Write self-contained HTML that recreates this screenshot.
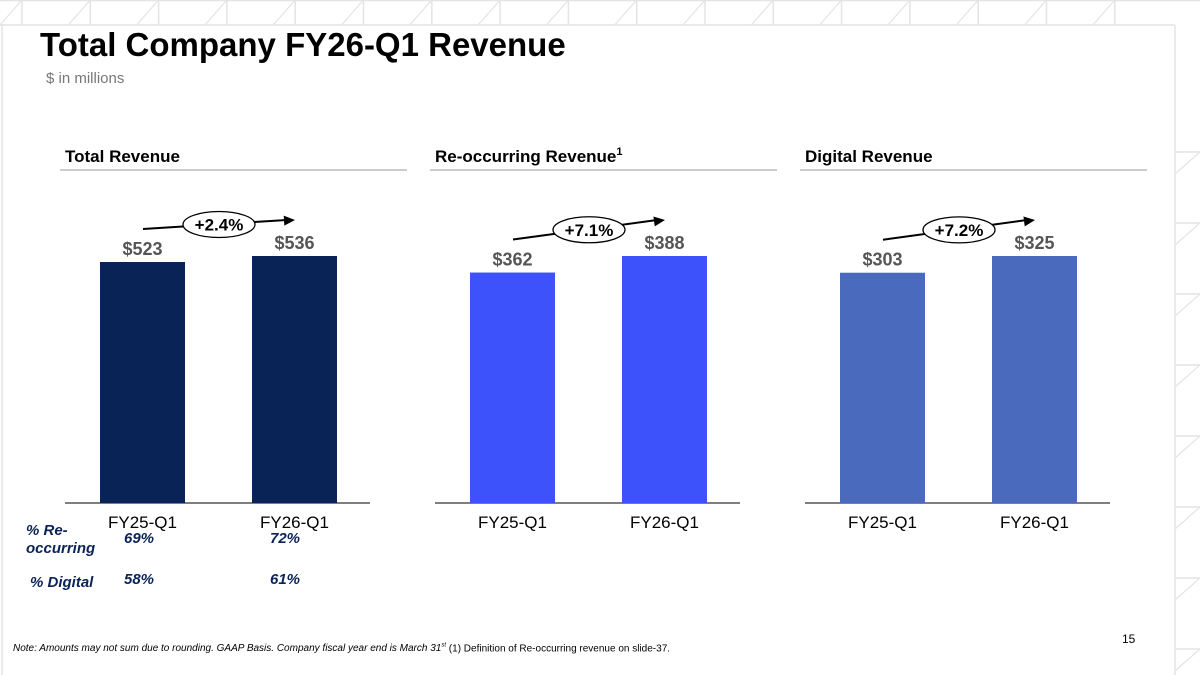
<!DOCTYPE html>
<html><head><meta charset="utf-8"><style>
body{margin:0;width:1200px;height:675px;overflow:hidden;background:#fff;font-family:"Liberation Sans",sans-serif;position:relative}
.t{position:absolute;white-space:nowrap}
</style></head><body>
<svg id="frame" width="1200" height="675" style="position:absolute;left:0;top:0"></svg>
<div class="t" style="left:40px;top:26px;font-size:33px;font-weight:bold;color:#000;font-family:'Liberation Sans',sans-serif">Total Company FY26-Q1 Revenue</div>
<div class="t" style="left:46px;top:70px;font-size:15px;color:#777">$ in millions</div>
<svg id="chart" width="1200" height="675" style="position:absolute;left:0;top:0"></svg>
<div class="t" style="left:26px;top:522px;font-size:15px;font-weight:bold;font-style:italic;color:#0a2357;line-height:18px;white-space:normal;width:80px">% Re-<br>occurring</div>
<div class="t" style="left:124px;top:530px;font-size:15px;font-weight:bold;font-style:italic;color:#0a2357">69%</div>
<div class="t" style="left:270px;top:530px;font-size:15px;font-weight:bold;font-style:italic;color:#0a2357">72%</div>
<div class="t" style="left:30px;top:574px;font-size:15px;font-weight:bold;font-style:italic;color:#0a2357">% Digital</div>
<div class="t" style="left:124px;top:571px;font-size:15px;font-weight:bold;font-style:italic;color:#0a2357">58%</div>
<div class="t" style="left:270px;top:571px;font-size:15px;font-weight:bold;font-style:italic;color:#0a2357">61%</div>
<div class="t" style="left:1122px;top:632px;font-size:12px;color:#000">15</div>
<div class="t" style="left:13px;top:643px;font-size:10px;color:#000"><i>Note: Amounts may not sum due to rounding. GAAP Basis. Company fiscal year end is March 31<sup style="font-size:6px">st</sup></i> (1) Definition of Re-occurring revenue on slide-37.</div>
<script>
const NS="http://www.w3.org/2000/svg";
function mk(p,tag,a){const e=document.createElementNS(NS,tag);for(const k in a)e.setAttribute(k,a[k]);p.appendChild(e);return e;}
const fr=document.getElementById('frame');
mk(fr,'line',{x1:0,y1:25,x2:1175,y2:25,stroke:'#e4e4e4','stroke-width':1.5});
mk(fr,'line',{x1:0,y1:0.5,x2:1200,y2:0.5,stroke:'#e4e4e4','stroke-width':1.5});
mk(fr,'line',{x1:1175,y1:25,x2:1175,y2:675,stroke:'#e4e4e4','stroke-width':1.5});
mk(fr,'line',{x1:2,y1:25,x2:2,y2:675,stroke:'#e4e4e4','stroke-width':1.5});
for(let x=22;x<1175;x+=68.3){mk(fr,'line',{x1:x,y1:0,x2:x,y2:25,stroke:'#e4e4e4','stroke-width':1.5});mk(fr,'line',{x1:x-22,y1:25,x2:x,y2:0,stroke:'#e4e4e4','stroke-width':1.2});}
for(let y=152;y<675;y+=71){mk(fr,'line',{x1:1175,y1:y,x2:1200,y2:y,stroke:'#e4e4e4','stroke-width':1.5});mk(fr,'line',{x1:1175,y1:y+22,x2:1200,y2:y,stroke:'#e4e4e4','stroke-width':1.2});}

const panels=["Total Revenue","Re-occurring Revenue","Digital Revenue"];
const categories=["FY25-Q1","FY26-Q1"];
const totalRevenue=[523,536];
const reoccurringRevenue=[362,388];
const digitalRevenue=[303,325];
const growthLabels=["+2.4%","+7.1%","+7.2%"];
const series=[totalRevenue,reoccurringRevenue,digitalRevenue];
const colors=['#0a2357','#3d52fb','#4a6bbd'];
const panelX=[60,430,800];
const ch=document.getElementById('chart');
const base=503,maxH=247;
panels.forEach((name,p)=>{
  const px=panelX[p];
  const g=mk(ch,'g',{});
  
  
  const h=mk(g,'text',{x:px+5,y:162,'font-size':17,'font-weight':'bold',fill:'#000','font-family':'Liberation Sans'});
  h.textContent=name;
  
  
  if(p===1){const s=mk(h,'tspan',{'font-size':11,dy:-7});s.textContent='1';}
  mk(g,'line',{x1:px,y1:170,x2:px+347,y2:170,stroke:'#bbb','stroke-width':1.5});
  mk(g,'line',{x1:px+5,y1:base,x2:px+310,y2:base,stroke:'#333','stroke-width':1.2});
  const vals=series[p];const mx=Math.max(...vals);
  const ys=v=>base-v/mx*maxH;
  const tops=[];
  vals.forEach((v,i)=>{
    const bx=px+40+i*152;
    const r=mk(g,'rect',{x:bx,y:ys(v),width:85,height:base-ys(v),fill:colors[p]});
    
    
    const t=mk(g,'text',{x:bx+42.5,y:ys(v)-7,'text-anchor':'middle','font-size':18,'font-weight':'bold',fill:'#555','font-family':'Liberation Sans'});
    t.textContent='$'+v;
    
    
    const c=mk(g,'text',{x:bx+42.5,y:528,'text-anchor':'middle','font-size':17,fill:'#000','font-family':'Liberation Sans'});
    c.textContent=categories[i];
    
    
    tops.push(ys(v));
  });
  const x1=px+83,x2=px+235;
  const y1=tops[0]-33,y2=tops[1]-36;
  const a=mk(g,'g',{});
  
  
  mk(a,'line',{x1:x1,y1:y1,x2:x2-8,y2:y2,stroke:'#000','stroke-width':2});
  const ang=Math.atan2(y2-y1,x2-x1);
  const hx=x2,hy=y2;
  const p1=[hx-11*Math.cos(ang)+5*Math.sin(ang),hy-11*Math.sin(ang)-5*Math.cos(ang)];
  const p2=[hx-11*Math.cos(ang)-5*Math.sin(ang),hy-11*Math.sin(ang)+5*Math.cos(ang)];
  mk(a,'polygon',{points:`${hx},${hy} ${p1} ${p2}`,fill:'#000'});
  const cx=(x1+x2)/2,cy=(y1+y2)/2;
  mk(a,'ellipse',{cx:cx,cy:cy,rx:36,ry:13,fill:'#fff',stroke:'#000','stroke-width':1.3});
  const gt=mk(a,'text',{x:cx,y:cy+6,'text-anchor':'middle','font-size':17,'font-weight':'bold',fill:'#000','font-family':'Liberation Sans'});
  gt.textContent=growthLabels[p];
});
</script>
</body></html>
